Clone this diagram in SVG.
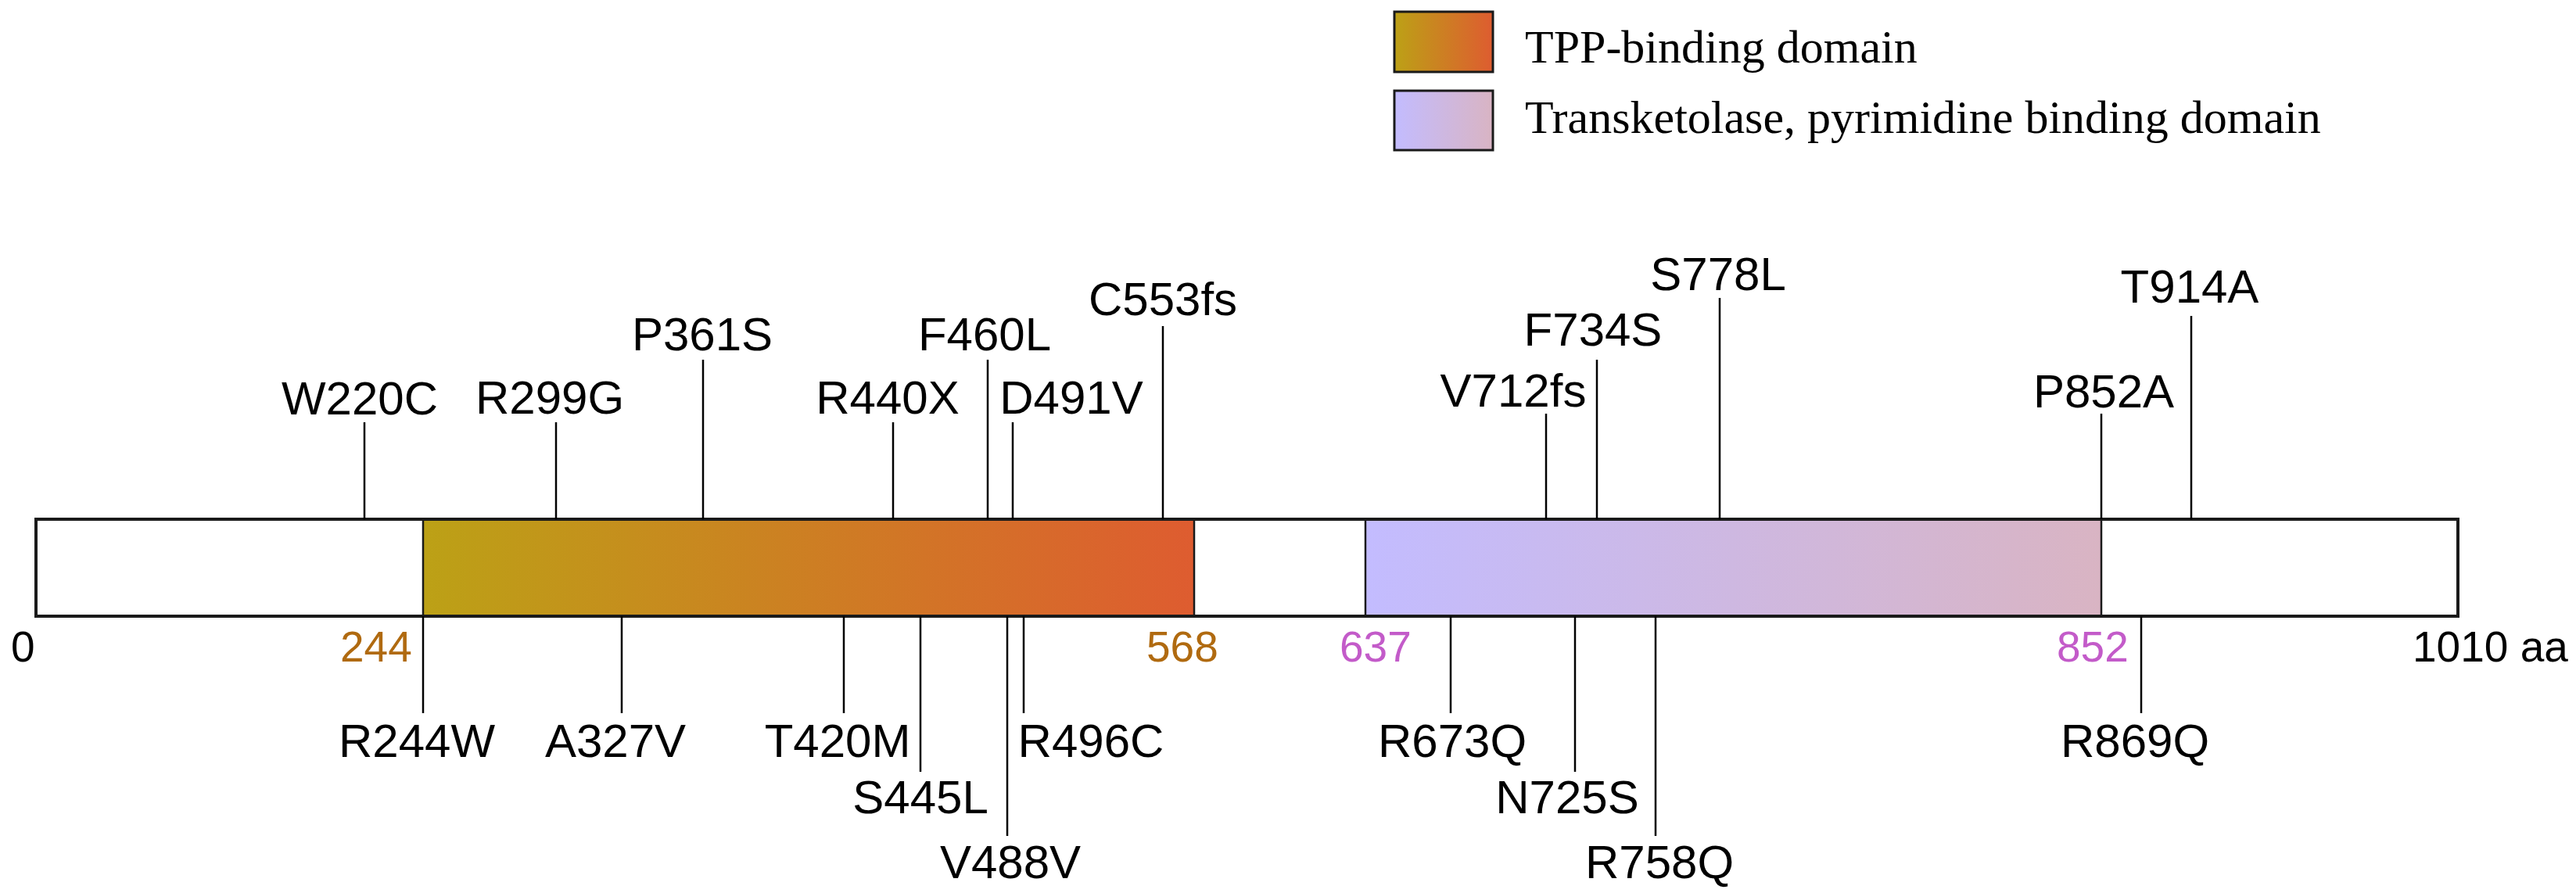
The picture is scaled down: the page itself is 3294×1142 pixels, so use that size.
<svg xmlns="http://www.w3.org/2000/svg" width="3294" height="1142" viewBox="0 0 3294 1142">
<defs>
<linearGradient id="gTPP" x1="0" y1="0" x2="1" y2="0">
<stop offset="0" stop-color="#BCA116"/>
<stop offset="1" stop-color="#DE5C30"/>
</linearGradient>
<linearGradient id="gPyr" x1="0" y1="0" x2="1" y2="0">
<stop offset="0" stop-color="#C3BCFF"/>
<stop offset="1" stop-color="#D9B4C3"/>
</linearGradient>
<style>
.mut{font-family:"Liberation Sans",Arial,sans-serif;font-size:60px;fill:#000;text-anchor:middle}
.num{font-family:"Liberation Sans",Arial,sans-serif;font-size:55px;text-anchor:start}
.leg{font-family:"Liberation Serif","Times New Roman",serif;font-size:60px;fill:#000}
.conn line{stroke:#000;stroke-width:2.5}
.box{stroke:#1a1a1a;stroke-width:3}
</style>
</defs>
<rect width="3294" height="1142" fill="#fff"/>

<g id="legend">
<rect class="box" x="1783" y="15" width="126" height="77" fill="url(#gTPP)"/>
<text class="leg" x="1950" y="80">TPP-binding domain</text>
<rect class="box" x="1783" y="116" width="126" height="76" fill="url(#gPyr)"/>
<text class="leg" x="1950" y="170">Transketolase, pyrimidine binding domain</text>
</g>

<g id="protein">
<rect x="46" y="664" width="3097" height="124" fill="#fff" stroke="#1a1a1a" stroke-width="4"/>
<rect id="tpp-domain" x="541" y="664" width="986" height="124" fill="url(#gTPP)" stroke="#1a1a1a" stroke-width="2.5"/>
<rect id="pyr-domain" x="1746" y="664" width="941" height="124" fill="url(#gPyr)" stroke="#1a1a1a" stroke-width="2.5"/>
<rect x="46" y="664" width="3097" height="124" fill="none" stroke="#1a1a1a" stroke-width="4"/>
</g>

<g id="scale">
<text class="num" x="14" y="846" fill="#000">0</text>
<text class="num" x="435" y="846" fill="#B06A10">244</text>
<text class="num" x="1466" y="846" fill="#B06A10">568</text>
<text class="num" x="1713" y="846" fill="#C35BC9">637</text>
<text class="num" x="2630" y="846" fill="#C35BC9">852</text>
<text class="num" x="3085" y="846" fill="#000">1010 aa</text>
</g>

<g id="connectors" class="conn">
<line x1="466" y1="540" x2="466" y2="664"/>
<line x1="711" y1="540" x2="711" y2="664"/>
<line x1="899" y1="460" x2="899" y2="664"/>
<line x1="1142" y1="540" x2="1142" y2="664"/>
<line x1="1263" y1="460" x2="1263" y2="664"/>
<line x1="1295" y1="540" x2="1295" y2="664"/>
<line x1="1487" y1="417" x2="1487" y2="664"/>
<line x1="1977" y1="529" x2="1977" y2="664"/>
<line x1="2042" y1="460" x2="2042" y2="664"/>
<line x1="2199" y1="381" x2="2199" y2="664"/>
<line x1="2687" y1="529" x2="2687" y2="664"/>
<line x1="2802" y1="404" x2="2802" y2="664"/>
<line x1="541" y1="788" x2="541" y2="912"/>
<line x1="795" y1="788" x2="795" y2="912"/>
<line x1="1079" y1="788" x2="1079" y2="912"/>
<line x1="1177" y1="788" x2="1177" y2="987"/>
<line x1="1288" y1="788" x2="1288" y2="1069"/>
<line x1="1309" y1="788" x2="1309" y2="912"/>
<line x1="1855" y1="788" x2="1855" y2="912"/>
<line x1="2014" y1="788" x2="2014" y2="987"/>
<line x1="2117" y1="788" x2="2117" y2="1069"/>
<line x1="2738" y1="788" x2="2738" y2="912"/>
</g>

<g id="mut-W220C"><text class="mut" x="460" y="530">W220C</text></g>
<g id="mut-R299G"><text class="mut" x="703" y="529">R299G</text></g>
<g id="mut-P361S"><text class="mut" x="898" y="448">P361S</text></g>
<g id="mut-R440X"><text class="mut" x="1135" y="529">R440X</text></g>
<g id="mut-F460L"><text class="mut" x="1259" y="448">F460L</text></g>
<g id="mut-D491V"><text class="mut" x="1370" y="529">D491V</text></g>
<g id="mut-C553fs"><text class="mut" x="1487" y="403">C553fs</text></g>
<g id="mut-V712fs"><text class="mut" x="1935" y="520">V712fs</text></g>
<g id="mut-F734S"><text class="mut" x="2037" y="442">F734S</text></g>
<g id="mut-S778L"><text class="mut" x="2197" y="371">S778L</text></g>
<g id="mut-P852A"><text class="mut" x="2690" y="521">P852A</text></g>
<g id="mut-T914A"><text class="mut" x="2800" y="387">T914A</text></g>
<g id="mut-R244W"><text class="mut" x="533" y="968">R244W</text></g>
<g id="mut-A327V"><text class="mut" x="787" y="968">A327V</text></g>
<g id="mut-T420M"><text class="mut" x="1071" y="968">T420M</text></g>
<g id="mut-S445L"><text class="mut" x="1177" y="1040">S445L</text></g>
<g id="mut-V488V"><text class="mut" x="1292" y="1123">V488V</text></g>
<g id="mut-R496C"><text class="mut" x="1395" y="968">R496C</text></g>
<g id="mut-R673Q"><text class="mut" x="1857" y="968">R673Q</text></g>
<g id="mut-N725S"><text class="mut" x="2004" y="1040">N725S</text></g>
<g id="mut-R758Q"><text class="mut" x="2122" y="1123">R758Q</text></g>
<g id="mut-R869Q"><text class="mut" x="2730" y="968">R869Q</text></g>
</svg>
